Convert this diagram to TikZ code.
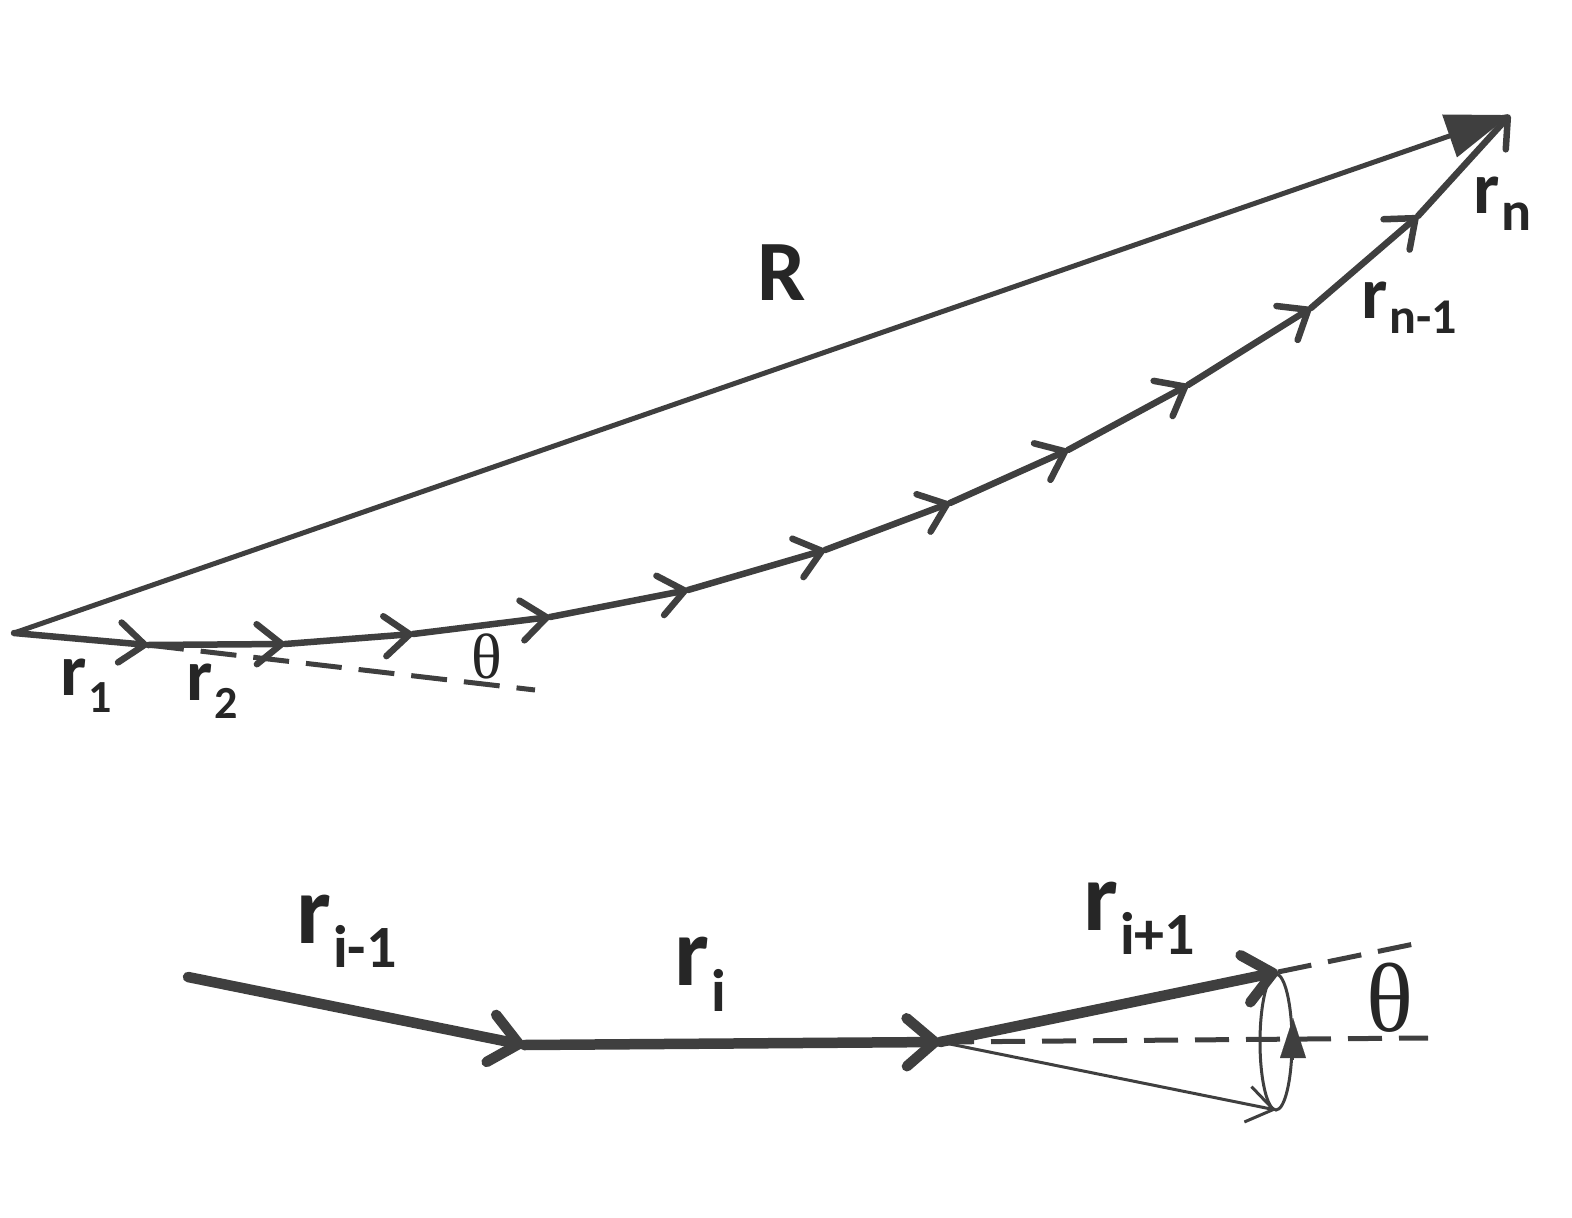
\documentclass[tikz,border=0pt]{standalone}
\usepackage{fontspec}
\setmainfont{Carlito}
\newfontfamily\thetafont{Liberation Serif}
\usetikzlibrary{arrows.meta}
\definecolor{ink}{HTML}{3F3F3F}
\definecolor{txt}{HTML}{262626}
\newcommand{\vlabel}[5]{{\bfseries\fontsize{#1}{#1}\selectfont r}\kern#5\raisebox{-#3}{\bfseries\fontsize{#2}{#2}\selectfont #4}}
\begin{document}
\begin{tikzpicture}[x=1pt,y=-1pt,
  chainseg/.style={draw=ink,line width=6.5pt,line cap=round,line join=round,
    -{Straight Barb[length=25pt,width=40pt,round]}},
  bigseg/.style={draw=ink,line width=10.5pt,line cap=round,line join=round,
    -{Straight Barb[length=28pt,width=48pt,round]}},
  thinseg/.style={draw=ink,line width=3pt,
    -{Straight Barb[length=26pt,width=36pt]}},
  resvec/.style={draw=ink,line width=5pt,-{Triangle[length=64pt,width=44pt]}},
  guide/.style={draw=ink,line width=5pt,dash pattern=on 36pt off 17pt},
  lbl/.style={text=txt,inner sep=0pt,anchor=base west},
  thetalbl/.style={text=txt,inner sep=0pt}]
\useasboundingbox (0,0) rectangle (1572,1218);
% upper chain
\coordinate (p0) at (14,633);
\coordinate (p1) at (148,645);
\coordinate (p2) at (285,644);
\coordinate (p3) at (413,634);
\coordinate (p4) at (550,617);
\coordinate (p5) at (688,590);
\coordinate (p6) at (825,550);
\coordinate (p7) at (950,503);
\coordinate (p8) at (1068,450);
\coordinate (p9) at (1188,385);
\coordinate (p10) at (1311,308);
\coordinate (p11) at (1418,216);
\coordinate (p12) at (1510,115);
\coordinate (dend) at (535,690);
\path[guide] (p1) -- (dend);
\path[resvec] (p0) -- (p12);
\foreach \a/\b in {p0/p1,p1/p2,p2/p3,p3/p4,p4/p5,p5/p6,p6/p7,p7/p8,p8/p9,p9/p10,p10/p11,p11/p12}
  \path[chainseg] (\a) -- (\b);
\node[thetalbl] (th1) at (487,656) {\thetafont\fontsize{64}{64}\selectfont θ};
\node[lbl] (lR) at (757,300) {\bfseries\fontsize{86}{86}\selectfont R};
\node[lbl] (lr1) at (60,695) {\vlabel{74}{46}{17pt}{1}{2pt}};
\node[lbl] (lr2) at (186,700) {\vlabel{74}{46}{18pt}{2}{2pt}};
\node[lbl] (lrn1) at (1361,318) {\vlabel{74}{50}{15pt}{n-1}{2pt}};
\node[lbl] (lrn) at (1473,213) {\vlabel{74}{56}{17pt}{n}{2pt}};
% lower diagram
\coordinate (q0) at (188,977);
\coordinate (q1) at (524,1045);
\coordinate (q2) at (940,1042);
\coordinate (q3) at (1278,972);
\coordinate (q3x) at (1414,944);
\coordinate (hx) at (1428,1038);
\coordinate (ec) at (1276,1042);
\coordinate (eb) at (1276,1110);
\coordinate (tb) at (1293,1060);
\coordinate (tt) at (1293,1018);
\path[guide,line width=5pt,dash pattern=on 34pt off 17pt] (q2) -- (hx);
\path[guide,line width=5pt,dash pattern=on 34pt off 17pt] (q3) -- (q3x);
\draw[ink,line width=3pt] (ec) ellipse [x radius=16, y radius=68];
\path[thinseg] (q2) -- (eb);
\path[draw=ink,line width=0.1pt,-{Triangle[length=40pt,width=26pt]}] (tb) -- (tt);
\path[bigseg] (q0) -- (q1);
\path[bigseg] (q1) -- (q2);
\path[bigseg] (q2) -- (q3);
\node[thetalbl] (th2) at (1390,998) {\thetafont\fontsize{98}{98}\selectfont θ};
\node[lbl] (lri1) at (296,943) {\vlabel{98}{60}{24pt}{i-1}{2pt}};
\node[lbl] (lri) at (674,985) {\vlabel{98}{60}{26pt}{i}{2pt}};
\node[lbl] (lrip) at (1083,930) {\vlabel{98}{60}{24pt}{i+1}{2pt}};
\end{tikzpicture}
\end{document}
